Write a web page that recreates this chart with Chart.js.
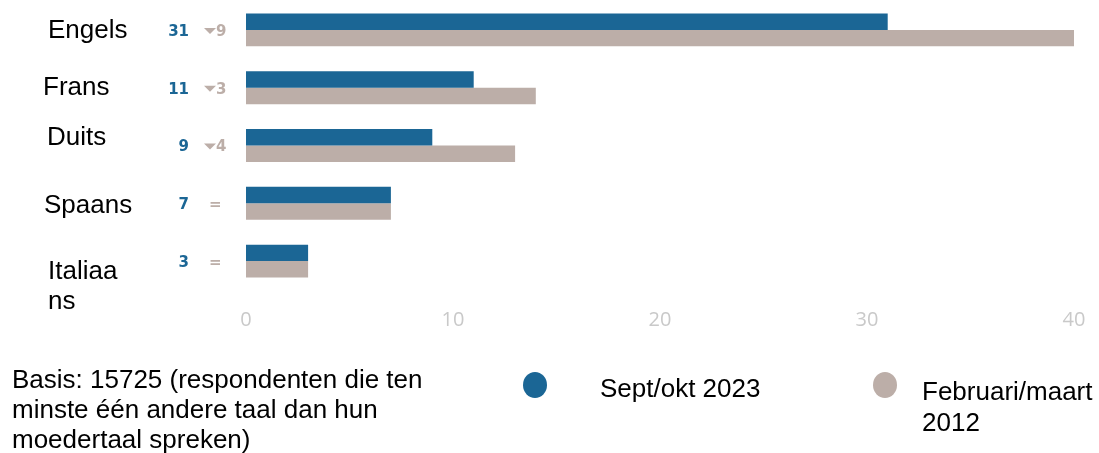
<!DOCTYPE html>
<html>
<head>
<meta charset="utf-8">
<script src="https://cdn.jsdelivr.net/npm/chart.js@4/dist/chart.umd.min.js"></script>
<style>
html,body{margin:0;padding:0;background:#fff;}
#wrap{position:relative;width:1099px;height:453px;}
</style>
</head>
<body>
<div id="wrap"><canvas id="c" width="1099" height="453"></canvas></div>
<script>
const categories = ["Engels", "Frans", "Duits", "Spaans", "Italiaans"];
const sept2023 = [31, 11, 9, 7, 3];
const feb2012 = [40, 14, 13, 7, 3];
const changeLabels = ["\u25BE9", "\u25BE3", "\u25BE4", "=", "="];
const xTicks = [0, 10, 20, 30, 40];
const seriesNames = ["Sept/okt 2023", ["Februari/maart", "2012"]];
const footnote = ["Basis: 15725 (respondenten die ten", "minste één andere taal dan hun", "moedertaal spreken)"];

const BLUE = "#1b6695";
const GREY = "#bcaea8";

const overlay = {
  id: "overlay",
  afterDraw(chart) {
    const ctx = chart.ctx;
    const y = chart.scales.y;
    ctx.save();
    const catLines = [["Engels"], ["Frans"], ["Duits"], ["Spaans"], ["Italiaa", "ns"]];
    const catDx = [48, 43, 47, 44, 48];
    const catDy = [1, 0, -8, 3, 11];
    ctx.fillStyle = "#000";
    ctx.font = "26px 'Liberation Sans', Arial, sans-serif";
    ctx.textAlign = "left";
    ctx.textBaseline = "middle";
    categories.forEach((c, i) => {
      const cy = y.getPixelForValue(i) + catDy[i];
      catLines[i].forEach((t, k) => ctx.fillText(t, catDx[i], cy + k * 30));
    });
    categories.forEach((c, i) => {
      const cy = y.getPixelForValue(i) + 2;
      ctx.font = "bold 15px 'DejaVu Sans', sans-serif";
      ctx.fillStyle = BLUE;
      ctx.textAlign = "right";
      ctx.fillText(String(sept2023[i]), 189, cy);
      ctx.fillStyle = GREY;
      ctx.textAlign = "left";
      const lbl = changeLabels[i];
      if (lbl.startsWith("\u25BE")) {
        ctx.beginPath();
        ctx.moveTo(204, cy - 4);
        ctx.lineTo(216, cy - 4);
        ctx.lineTo(210, cy + 2);
        ctx.closePath();
        ctx.fill();
        ctx.fillText(lbl.slice(1), 216, cy);
      } else {
        ctx.fillText(lbl, 209, cy);
      }
    });
    ctx.fillStyle = "#000";
    ctx.font = "26px 'Liberation Sans', Arial, sans-serif";
    ctx.textAlign = "left";
    footnote.forEach((t, k) => ctx.fillText(t, 12, 381 + k * 30));
    const dots = [[535, 385, BLUE], [885, 385, GREY]];
    dots.forEach(([dx, dy, col]) => {
      ctx.fillStyle = col;
      ctx.beginPath();
      ctx.ellipse(dx, dy, 12, 13, 0, 0, Math.PI * 2);
      ctx.fill();
    });
    ctx.fillStyle = "#000";
    ctx.fillText(seriesNames[0], 600, 390);
    seriesNames[1].forEach((t, k) => ctx.fillText(t, 922, 393 + k * 31));
    ctx.restore();
  }
};

new Chart(document.getElementById("c"), {
  type: "bar",
  data: {
    labels: categories,
    datasets: [
      { label: "Sept/okt 2023", data: sept2023, backgroundColor: BLUE, borderWidth: 0 },
      { label: "Februari/maart 2012", data: feb2012, backgroundColor: GREY, borderWidth: 0 }
    ]
  },
  options: {
    indexAxis: "y",
    responsive: false,
    animation: false,
    layout: { padding: { left: 246, right: 25, top: 1, bottom: 0 } },
    plugins: { legend: { display: false }, tooltip: { enabled: false } },
    datasets: { bar: { categoryPercentage: 0.57, barPercentage: 1.0 } },
    scales: {
      y: { display: false },
      x: {
        min: 0, max: 40,
        afterBuildTicks(s) { s.ticks = xTicks.map(v => ({ value: v })); },
        afterFit(s) { s.height = 163; s.paddingRight = 0; s.paddingLeft = 0; },
        grid: { display: false, drawTicks: false },
        border: { display: false },
        ticks: { color: "#c9c9c9", font: { family: "'Open Sans', 'DejaVu Sans', sans-serif", size: 20 }, padding: 18, maxRotation: 0 }
      }
    }
  },
  plugins: [overlay]
});
</script>
</body>
</html>
